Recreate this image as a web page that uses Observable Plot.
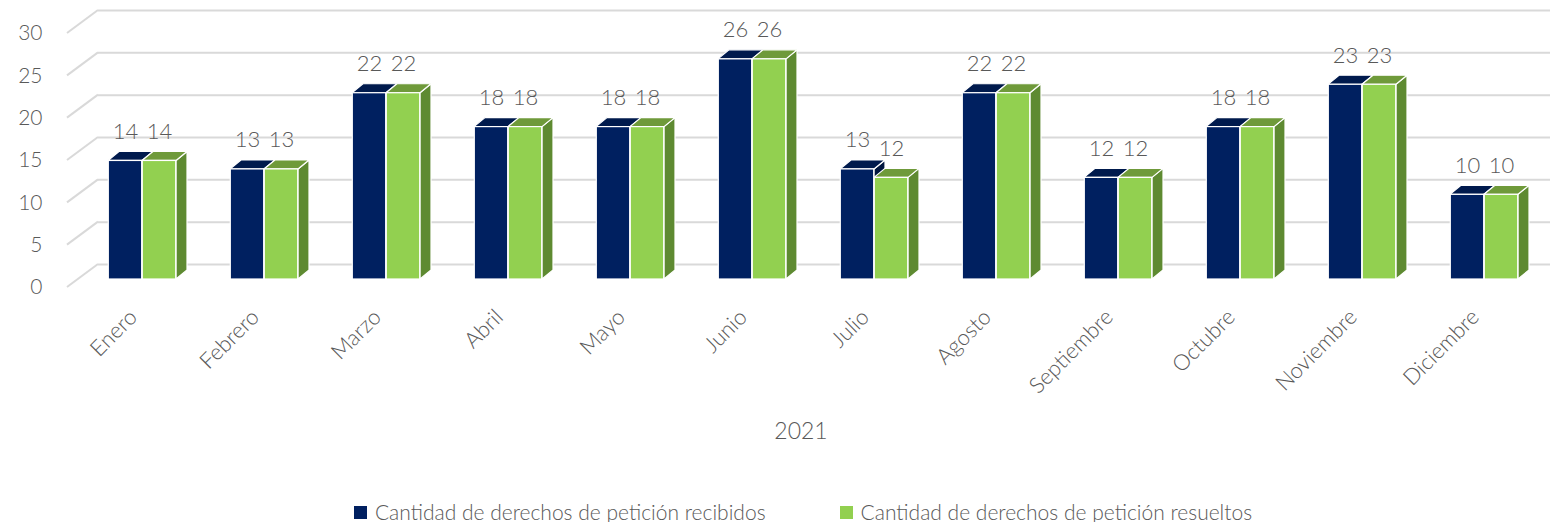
<!DOCTYPE html>
<html><head><meta charset="utf-8">
<script src="https://cdn.jsdelivr.net/npm/d3@7"></script>
<script src="https://cdn.jsdelivr.net/npm/@observablehq/plot@0.6"></script>
<style>
body{margin:0;background:#fff;overflow:hidden;font-family:Lato,"Open Sans",sans-serif;color:#595959;}
#legend{display:flex;justify-content:center;align-items:center;margin-top:42px;padding-left:56px;font-size:21px;line-height:20px;font-weight:300;}
#legend .item{display:flex;align-items:center;margin:0 37px;}
#legend .sw{width:13px;height:13px;margin-right:8px;}
</style></head><body><div id="chart"></div><script>
const months = ["Enero","Febrero","Marzo","Abril","Mayo","Junio","Julio","Agosto","Septiembre","Octubre","Noviembre","Diciembre"];
const recibidos = [14,13,22,18,18,26,13,22,12,18,23,10];
const resueltos = [14,13,22,18,18,26,12,22,12,18,23,10];
const yTicks = [0,5,10,15,20,25,30];
const seriesNames = ["Cantidad de derechos de petición recibidos","Cantidad de derechos de petición resueltos"];
const frontColors = ["#002060","#92D050"];
const topColors = ["#001a4d","#6f9a3a"];
const sideColors = ["#00163f","#5e8a31"];
const xTitle = "2021";

const rows = months.flatMap((m,i)=>[
  {month:m, series:0, value:recibidos[i]},
  {month:m, series:1, value:resueltos[i]}
]);
const dark = rows.filter(d=>d.series===0);
const green = rows.filter(d=>d.series===1);

const W=1550, H=460, ML=67, MT=25, MB=181;
const X0=77, X1=1548;
const BAND=(X1-X0)/months.length;
const BW=34, DX=11, DY=-9;      // bar width & depth
const GDX=31, GBACK=-15, GFRONT=8; // grid depth

function gridDiagonals(index, scales) {
  const g = d3.create("svg:g");
  for (const t of yTicks) {
    const y = scales.y(t);
    g.append("line").attr("x1", ML).attr("y1", y+GFRONT).attr("x2", ML+GDX).attr("y2", y+GBACK)
      .attr("stroke","#d9d9d9").attr("stroke-width",2);
  }
  return g.node();
}
function barDepth(index, scales) {
  const g = d3.create("svg:g").attr("stroke","#fff").attr("stroke-width",1.2).attr("stroke-linejoin","round");
  const bw = scales.x.bandwidth();
  for (const d of rows) {
    const c = scales.x(d.month) + bw/2;
    const left = d.series===0 ? c-BW : c, right = left+BW;
    const top = scales.y(d.value), base = scales.y(0);
    g.append("path").attr("fill", sideColors[d.series])
      .attr("d", `M${right},${top}L${right+DX},${top+DY}L${right+DX},${base+DY}L${right},${base}Z`);
    g.append("path").attr("fill", topColors[d.series])
      .attr("d", `M${left},${top}L${right},${top}L${right+DX},${top+DY}L${left+DX},${top+DY}Z`);
  }
  return g.node();
}

const chart = Plot.plot({
  width: W, height: H,
  marginLeft: ML, marginRight: 0, marginTop: MT, marginBottom: MB,
  style: {fontFamily: "Lato, 'Open Sans', sans-serif", fontSize: "20px", color: "#595959", background: "#fff", fontWeight: 300},
  x: {domain: months, range: [X0, X1], padding: 0},
  y: {domain: [0, 30]},
  marks: [
    Plot.ruleY(yTicks, {dy: GBACK, insetLeft: GDX, stroke: "#d9d9d9", strokeWidth: 2, strokeOpacity: 1}),
    gridDiagonals,
    barDepth,
    Plot.barY(dark, {x: "month", y: "value", fill: frontColors[0], stroke: "#fff", strokeWidth: 1.2,
      insetLeft: BAND/2 - BW, insetRight: BAND/2}),
    Plot.barY(green, {x: "month", y: "value", fill: frontColors[1], stroke: "#fff", strokeWidth: 1.2,
      insetLeft: BAND/2, insetRight: BAND/2 - BW}),
    Plot.text(dark, {x: "month", y: "value", text: d => String(d.value), dx: -17, dy: -29, fontSize: 22, fill: "#595959"}),
    Plot.text(green, {x: "month", y: "value", text: d => String(d.value), dx: 17, dy: -29, fontSize: 22, fill: "#595959"}),
    Plot.axisY({ticks: yTicks, tickSize: 0, tickPadding: 25, dy: GFRONT, fontSize: 21, label: null}),
    Plot.axisX({tickRotate: -45, tickSize: 0, tickPadding: 34, fontSize: 22, label: null, dx: -9}),
    Plot.text([xTitle], {frameAnchor: "bottom", dx: -8, dy: 159, fontSize: 23, fill: "#595959"})
  ]
});
document.getElementById("chart").appendChild(chart);

const legend = document.createElement("div");
legend.id = "legend";
seriesNames.forEach((n,i)=>{
  const it = document.createElement("div"); it.className="item";
  const sw = document.createElement("span"); sw.className="sw"; sw.style.background = frontColors[i];
  const tx = document.createElement("span"); tx.textContent = n;
  it.appendChild(sw); it.appendChild(tx); legend.appendChild(it);
});
document.body.appendChild(legend);
</script></body></html>
